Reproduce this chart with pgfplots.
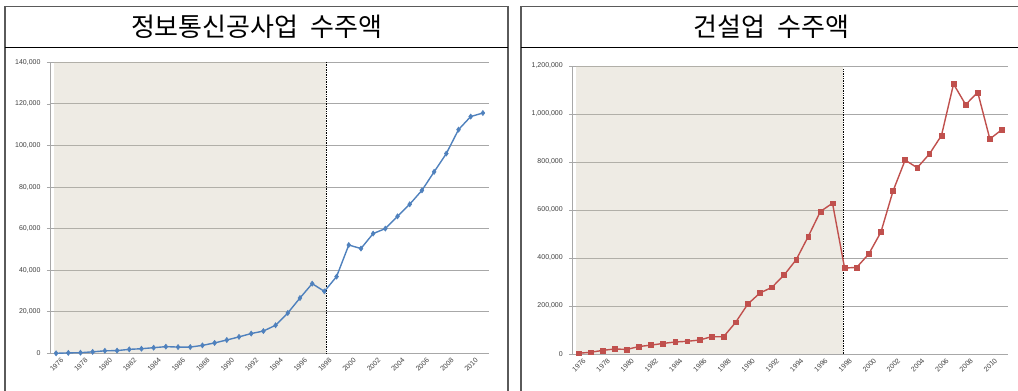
\documentclass[border=0pt]{standalone}
\usepackage{fontspec}
\setmainfont{Liberation Sans}
\newfontfamily\kr{Noto Sans CJK KR}
\usepackage{pgfplots}
\usepackage{pgfplotstable}
\pgfplotsset{compat=1.18}
\definecolor{bgshade}{HTML}{C8C0A8}
\definecolor{gridc}{HTML}{A8A8A8}
\definecolor{ibl}{HTML}{4F81BD}
\definecolor{cred}{HTML}{C0504D}
\definecolor{txt}{HTML}{404040}
\definecolor{framec}{HTML}{5A5A5A}

\pgfplotstableread{
year val
1976 0
1977 200
1978 300
1979 700
1980 1200
1981 1300
1982 1900
1983 2200
1984 2700
1985 3200
1986 3000
1987 3000
1988 3800
1989 5000
1990 6400
1991 7900
1992 9500
1993 10700
1994 13500
1995 19400
1996 26600
1997 33500
1998 29800
1999 36900
2000 52100
2001 50400
2002 57600
2003 60000
2004 65900
2005 71700
2006 78400
2007 87300
2008 96100
2009 107600
2010 113900
2011 115600
}\ictdata

\pgfplotstableread{
year val
1976 3000
1977 7000
1978 15000
1979 21000
1980 19000
1981 31000
1982 37000
1983 44000
1984 50000
1985 53000
1986 58000
1987 72000
1988 72000
1989 132000
1990 208000
1991 254000
1992 278000
1993 329000
1994 393000
1995 490000
1996 594000
1997 628000
1998 358000
1999 361000
2000 417000
2001 508000
2002 679000
2003 808000
2004 776000
2005 833000
2006 910000
2007 1125000
2008 1039000
2009 1090000
2010 896000
2011 935000
}\condata

\pgfplotsset{
  panel/.style={
    scale only axis,
    anchor=south west,
    xmin=1975.5, xmax=2011.5,
    ymin=0,
    axis x line*=bottom,
    axis y line*=left,
    axis line style={gridc, line width=0.8pt},
    ymajorgrids,
    grid style={gridc, line width=0.8pt},
    tick align=outside,
    tick style={gridc, line width=0.6pt},
    major tick length=3pt,
    minor tick length=3pt,
    xtick={1976,1978,...,2010},
    xticklabels={1976,1978,1980,1982,1984,1986,1988,1990,1992,1994,1996,1998,2000,2002,2004,2006,2008,2010},
    minor xtick={1975.5,1976.5,...,2011.5},
    xtick style={draw=none},
    minor x tick style={gridc, line width=0.6pt},
    xticklabel style={rotate=45, anchor=north east, font=\fontsize{7}{7}\selectfont, text=txt, inner sep=0.5pt, yshift=-3pt, xshift=3pt},
    yticklabel style={font=\fontsize{7}{7}\selectfont, text=txt, xshift=-3pt},
    scaled ticks=false,
    clip=false,
  }
}

\begin{document}
\begin{tikzpicture}
\useasboundingbox (0pt,0pt) rectangle (1018pt,391pt);
\clip (0pt,0pt) rectangle (1018pt,391pt);
\fill[white] (0pt,0pt) rectangle (1018pt,391pt);

% frames
\draw[framec, line width=1.6pt] (5pt,-10pt) -- (5pt,384.3pt) -- (507.7pt,384.3pt) -- (507.7pt,-10pt);
\draw[black, line width=1pt] (5pt,343.7pt) -- (507.7pt,343.7pt);
\draw[framec, line width=1.6pt] (521pt,-10pt) -- (521pt,384.3pt) -- (1030pt,384.3pt);
\draw[black, line width=1pt] (521pt,343.7pt) -- (1030pt,343.7pt);

\node[font=\kr\fontsize{26}{26}\selectfont, inner sep=0] at (256.5pt,364pt) {정보통신공사업\ \ 수주액};
\node[font=\kr\fontsize{26}{26}\selectfont, inner sep=0] at (771.5pt,364pt) {건설업\ \ 수주액};

% left axis
\begin{axis}[panel,
  at={(50pt,37.7pt)}, width=439pt, height=291pt,
  ymax=140000, ytick={0,20000,40000,60000,80000,100000,120000,140000},
  yticklabels={0,{20,000},{40,000},{60,000},{80,000},{100,000},{120,000},{140,000}}]
  \addplot[draw=none, fill=bgshade, fill opacity=0.3, forget plot] coordinates {(1975.83,140000) (1998.16,140000)} \closedcycle;
  \draw[black, densely dotted, line width=0.7pt] (axis cs:1998.16,0) -- (axis cs:1998.16,140000);
  \addplot[ibl, line width=1.4pt, mark=diamond*, mark size=2.6pt, mark options={fill=ibl, draw=ibl, line width=0.5pt}] table[x=year, y=val] {\ictdata};
\end{axis}

% right axis
\begin{axis}[panel,
  at={(572.3pt,37pt)}, width=435.7pt, height=288pt,
  ymax=1200000, ytick={0,200000,400000,600000,800000,1000000,1200000},
  yticklabels={0,{200,000},{400,000},{600,000},{800,000},{1,000,000},{1,200,000}}]
  \addplot[draw=none, fill=bgshade, fill opacity=0.3, forget plot] coordinates {(1975.78,1198000) (1997.9,1198000)} \closedcycle;
  \draw[black, densely dotted, line width=0.7pt] (axis cs:1997.9,0) -- (axis cs:1997.9,1190000);
  \addplot[cred, line width=1.4pt, mark=square*, mark size=2.4pt, mark options={fill=cred, draw=cred, line width=0.5pt}] table[x=year, y=val] {\condata};
\end{axis}
\end{tikzpicture}
\end{document}
